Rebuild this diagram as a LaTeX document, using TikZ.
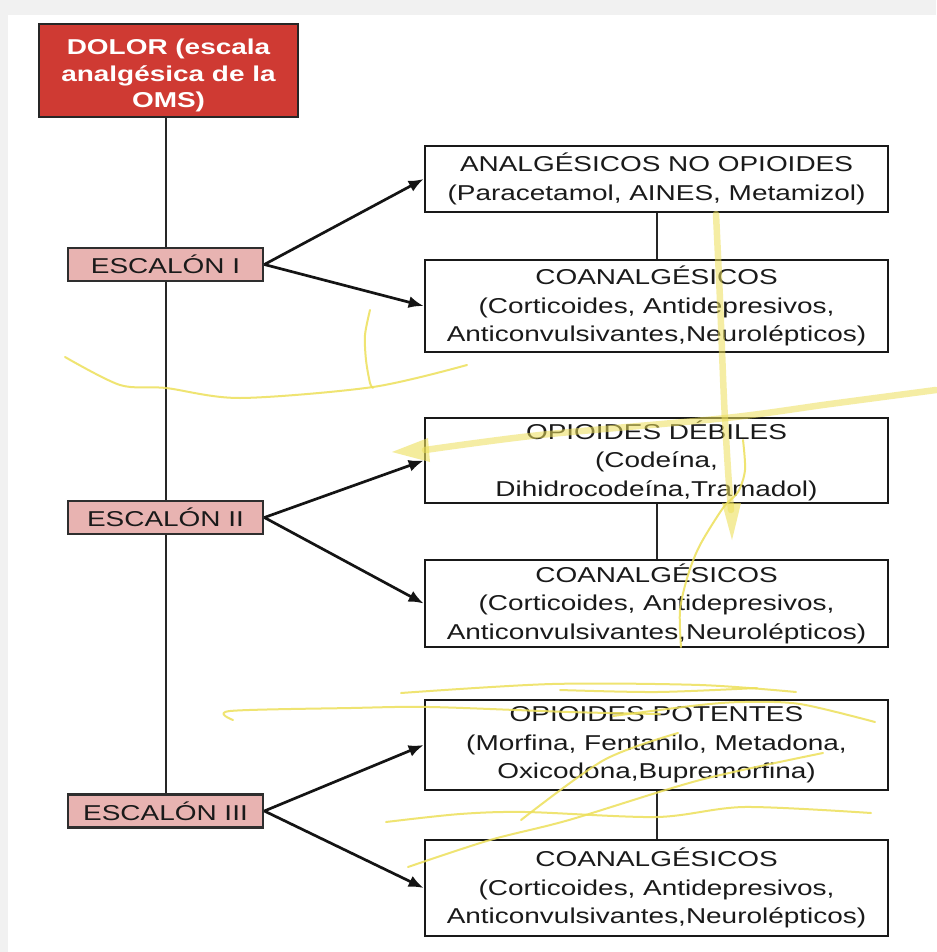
\documentclass[tikz,border=0pt]{standalone}
\usepackage{fontspec}
\setmainfont{Liberation Sans}[FakeStretch=1.3]
\usetikzlibrary{arrows.meta,backgrounds}
\definecolor{dolorred}{HTML}{CF3A33}
\definecolor{escpink}{HTML}{E8B3B1}
\definecolor{txt}{HTML}{1A1A1A}
\definecolor{hl}{HTML}{EDE05A}
\definecolor{edge}{HTML}{F1F1F1}
\begin{document}
\begin{tikzpicture}[x=1pt,y=-1pt,
  box/.style={draw=black!90, line width=2.7pt, fill=white, minimum width=463pt,
    text=txt, align=center, font=\fontsize{21.5}{28.5}\selectfont, inner sep=0pt},
  escbox/.style={draw=black!82, line width=2.7pt, fill=escpink, minimum width=195pt,
    minimum height=33pt, text=txt, font=\fontsize{21.5}{28}\selectfont, inner sep=0pt},
  dolorbox/.style={draw=black!85, line width=2.7pt, fill=dolorred, minimum width=259pt,
    minimum height=93pt, text=white, align=center, inner sep=0pt,
    font=\fontsize{21.5}{26.5}\selectfont\bfseries},
  arr/.style={draw=black!92, line width=2.7pt, -{Latex[length=15pt,width=12pt]}},
  link/.style={draw=black!85, line width=2pt},
  hlthin/.style={draw=hl, line width=2pt, opacity=0.85, line cap=round, line join=round},
  hlthick/.style={draw=hl, line width=6.5pt, opacity=0.55, line cap=round, line join=round},
  hlhead/.style={fill=hl, opacity=0.6}
]
\useasboundingbox (0,0) rectangle (936,952);

% main column
\node[dolorbox] (dolor) at (168.5,70.5) {\rule{0pt}{26pt}DOLOR (escala\\analgésica de la\\OMS)};
\node[escbox] (e1) at (165.5,264.5) {ESCALÓN I};
\node[escbox] (e2) at (165.5,517.5) {ESCALÓN II};
\node[escbox] (e3) at (165.5,811) {ESCALÓN III};

% right column
\node[box, minimum height=66pt] (b1) at (656.5,179) {ANALGÉSICOS NO OPIOIDES\\(Paracetamol, AINES, Metamizol)};
\node[box, minimum height=92pt] (b2) at (656.5,306) {COANALGÉSICOS\\(Corticoides, Antidepresivos,\\Anticonvulsivantes,Neurolépticos)};
\node[box, minimum height=85pt] (b3) at (656.5,460.5) {OPIOIDES DÉBILES\\(Codeína,\\Dihidrocodeína,Tramadol)};
\node[box, minimum height=87pt] (b4) at (656.5,603.5) {COANALGÉSICOS\\(Corticoides, Antidepresivos,\\Anticonvulsivantes,Neurolépticos)};
\node[box, minimum height=90pt] (b5) at (656.5,745) {OPIOIDES POTENTES\\(Morfina, Fentanilo, Metadona,\\Oxicodona,Bupremorfina)};
\node[box, minimum height=96pt] (b6) at (656.5,888) {COANALGÉSICOS\\(Corticoides, Antidepresivos,\\Anticonvulsivantes,Neurolépticos)};

\begin{pgfonlayer}{background}
  \fill[edge] (0,0) rectangle (936,952);
  \fill[white] (8,15) rectangle (936,952);
  \draw[link] (dolor.south -| e1) -- (e3.north);
\end{pgfonlayer}

\draw[link] (b1.south) -- (b2.north);
\draw[link] (b3.south) -- (b4.north);
\draw[link] (b5.south) -- (b6.north);

\draw[arr] (e1.east) -- (b1.west);
\draw[arr] (e1.east) -- (b2.west);
\draw[arr] (e2.east) -- (b3.west);
\draw[arr] (e2.east) -- (b4.west);
\draw[arr] (e3.east) -- (b5.west);
\draw[arr] (e3.east) -- (b6.west);

% yellow hand-drawn marks
\draw[hlthin] plot[smooth] coordinates {(65,357) (120,385) (166,388) (240,398) (373,387) (467,365)};
\draw[hlthin] plot[smooth] coordinates {(370,310) (365,335) (366,360) (370,383) (373,388)};
\draw[hlthick] plot[smooth] coordinates {(716,214) (720,300) (724,400) (728,470) (731,510)};
\fill[hlhead] (722,503) -- (741,503) -- (732,540) -- cycle;
\draw[hlthick] plot[smooth] coordinates {(936,390) (830,404) (726,418) (540,435) (425,450)};
\fill[hlhead] (428,438) -- (430,462) -- (392,452) -- cycle;
\draw[hlthin] plot[smooth] coordinates {(743,440) (745,470) (738,492) (723,508) (700,545) (688,575) (680,610) (681,647)};
\draw[hlthin] plot[smooth] coordinates {(401,693) (552,684) (700,685) (796,692)};
\draw[hlthin] plot[smooth] coordinates {(560,690) (657,692) (757,688)};
\draw[hlthin] plot[smooth] coordinates {(233,720) (230,711) (351,708) (430,707) (569,712) (660,714)};
\draw[hlthin] plot[smooth] coordinates {(613,716) (700,705) (744,702) (800,704) (875,722)};
\draw[hlthin] plot[smooth] coordinates {(521,820) (604,760) (678,733)};
\draw[hlthin] plot[smooth] coordinates {(408,867) (490,840) (569,820) (700,780) (823,753)};
\draw[hlthin] plot[smooth] coordinates {(386,822) (460,814) (526,812) (657,817) (744,807) (871,813)};
\end{tikzpicture}
\end{document}
